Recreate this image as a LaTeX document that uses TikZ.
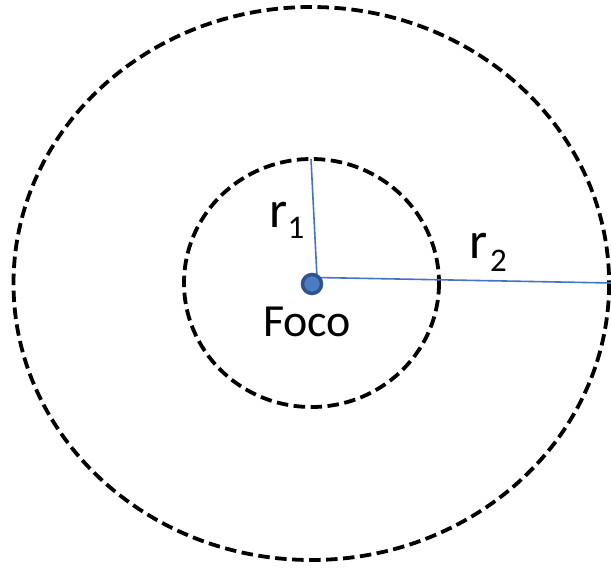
\documentclass[tikz,border=0pt]{standalone}
\usepackage{fontspec}
\setmainfont{Carlito}
\definecolor{lineblue}{HTML}{4472C4}
\definecolor{dotedge}{HTML}{2F528F}
\definecolor{dotfill}{HTML}{4A7CC4}
\begin{document}
\begin{tikzpicture}[x=1pt,y=-1pt,
  orbit/.style={draw=black,line width=3.8pt,dash pattern=on 11.5pt off 5.5pt},
  radius line/.style={draw=lineblue,line width=1.6pt},
  lbl/.style={inner sep=0pt,outer sep=0pt,anchor=base west}]
\useasboundingbox (0,0) rectangle (611,568);
\draw[orbit] (311.3,283.5) ellipse [x radius=297.8, y radius=276.5];
\draw[orbit] (311.5,283) ellipse [x radius=127.5, y radius=124];
\coordinate (corner) at (317,277.5);
\coordinate (top1) at (311,159);
\coordinate (edge2) at (612,283);
\draw[radius line] (corner) -- (top1);
\draw[radius line] (corner) -- (edge2);
\node[circle,draw=dotedge,fill=dotfill,line width=3.5pt,minimum size=19pt,inner sep=0pt] (foco) at (312,284) {};
\node[lbl,font=\fontsize{46}{54}\selectfont] (focolbl) at (263,336) {Foco};
\node[lbl,font=\fontsize{52}{60}\selectfont] (r1) at (269,227) {r\kern0.5pt\raisebox{-11pt}{\fontsize{33}{33}\selectfont 1}};
\node[lbl,font=\fontsize{52}{60}\selectfont] (r2) at (469,258) {r\kern3pt\raisebox{-13pt}{\fontsize{33}{33}\selectfont 2}};
\end{tikzpicture}
\end{document}
